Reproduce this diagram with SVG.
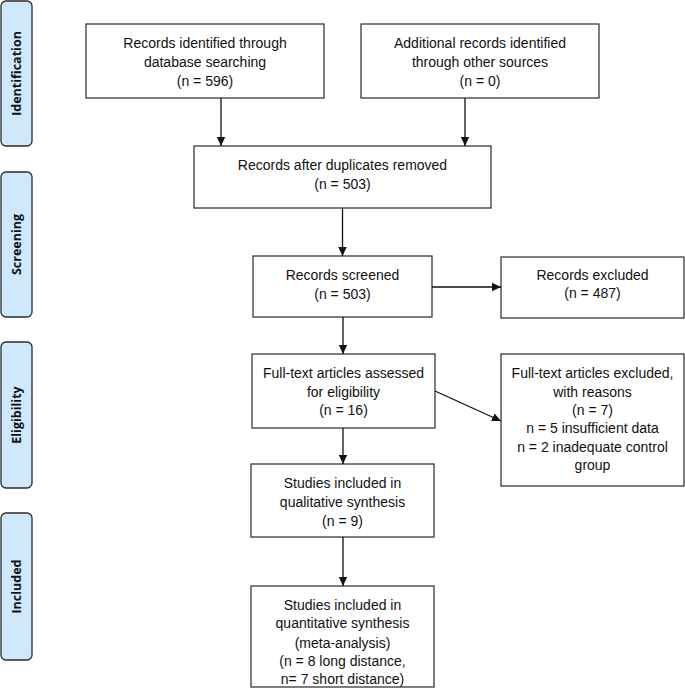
<svg xmlns="http://www.w3.org/2000/svg" width="685" height="697" viewBox="0 0 685 697">
<style>
.bg{fill:#ffffff}
.box{fill:#ffffff;stroke:#3a3a3a;stroke-width:1.3}
.side{fill:#cfe8fb;stroke:#2b2b2b;stroke-width:1.3}
.t{font-family:"Liberation Sans",Arial,sans-serif;font-size:14px;fill:#111;text-anchor:middle}
.s{font-family:"Open Sans","DejaVu Sans",sans-serif;font-size:12.5px;font-weight:bold;fill:#111;text-anchor:middle}
.c{stroke:#111;stroke-width:1.3;fill:none;marker-end:url(#ah)}
</style>
<defs>
<marker id="ah" markerWidth="10" markerHeight="10" refX="9" refY="5" orient="auto" markerUnits="userSpaceOnUse">
<path d="M0,0.8 L9,5 L0,9.2 Z" fill="#111"/>
</marker>
</defs>
<rect class="bg" x="0" y="0" width="685" height="697"/>
<g id="phase-identification"><rect class="side" x="1" y="1" width="31" height="145" rx="5"/><text class="s" transform="translate(21,73.5) rotate(-90)">Identification</text></g>
<g id="phase-screening"><rect class="side" x="1" y="172" width="31" height="145" rx="5"/><text class="s" transform="translate(21,244.5) rotate(-90)">Screening</text></g>
<g id="phase-eligibility"><rect class="side" x="1" y="342" width="31" height="146" rx="5"/><text class="s" transform="translate(21,415) rotate(-90)">Eligibility</text></g>
<g id="phase-included"><rect class="side" x="1" y="513" width="31" height="147" rx="5"/><text class="s" transform="translate(21,586.5) rotate(-90)">Included</text></g>

<g id="n1"><rect class="box" x="86" y="24" width="238" height="74"/>
<text class="t" x="205" y="48">Records identified through</text>
<text class="t" x="205" y="67">database searching</text>
<text class="t" x="205" y="86">(n = 596)</text></g>
<g id="n2"><rect class="box" x="361" y="24" width="238" height="74"/>
<text class="t" x="480" y="48">Additional records identified</text>
<text class="t" x="480" y="67">through other sources</text>
<text class="t" x="480" y="86">(n = 0)</text></g>
<g id="n3"><rect class="box" x="194" y="146" width="297" height="62"/>
<text class="t" x="342.5" y="170">Records after duplicates removed</text>
<text class="t" x="342.5" y="189">(n = 503)</text></g>
<g id="n4"><rect class="box" x="253" y="256" width="179" height="61"/>
<text class="t" x="342.5" y="280">Records screened</text>
<text class="t" x="342.5" y="299">(n = 503)</text></g>
<g id="n5"><rect class="box" x="501" y="257" width="183" height="61"/>
<text class="t" x="592.5" y="280">Records excluded</text>
<text class="t" x="592.5" y="298">(n = 487)</text></g>
<g id="n6"><rect class="box" x="252" y="354" width="183" height="74"/>
<text class="t" x="343.5" y="378">Full-text articles assessed</text>
<text class="t" x="343.5" y="397">for eligibility</text>
<text class="t" x="343.5" y="415">(n = 16)</text></g>
<g id="n7"><rect class="box" x="501" y="354" width="183" height="132"/>
<text class="t" x="592.5" y="378">Full-text articles excluded,</text>
<text class="t" x="592.5" y="397">with reasons</text>
<text class="t" x="592.5" y="415">(n = 7)</text>
<text class="t" x="592.5" y="433">n = 5 insufficient data</text>
<text class="t" x="592.5" y="452">n = 2 inadequate control</text>
<text class="t" x="592.5" y="470">group</text></g>
<g id="n8"><rect class="box" x="251" y="464" width="183" height="73"/>
<text class="t" x="342.5" y="488">Studies included in</text>
<text class="t" x="342.5" y="507">qualitative synthesis</text>
<text class="t" x="342.5" y="526">(n = 9)</text></g>
<g id="n9"><rect class="box" x="251" y="586" width="183" height="101"/>
<text class="t" x="342.5" y="610">Studies included in</text>
<text class="t" x="342.5" y="628">quantitative synthesis</text>
<text class="t" x="342.5" y="648">(meta-analysis)</text>
<text class="t" x="342.5" y="666">(n = 8 long distance,</text>
<text class="t" x="342.5" y="684">n= 7 short distance)</text></g>

<g id="connectors">
<line class="c" x1="221" y1="98" x2="221" y2="146"/>
<line class="c" x1="465" y1="98" x2="465" y2="146"/>
<line class="c" x1="342.5" y1="208" x2="342.5" y2="256"/>
<line class="c" x1="432" y1="287" x2="501" y2="287"/>
<line class="c" x1="343" y1="317" x2="343" y2="354"/>
<line class="c" x1="435" y1="391" x2="501" y2="421"/>
<line class="c" x1="343" y1="428" x2="343" y2="464"/>
<line class="c" x1="343" y1="537" x2="343" y2="586"/>
</g>
</svg>
